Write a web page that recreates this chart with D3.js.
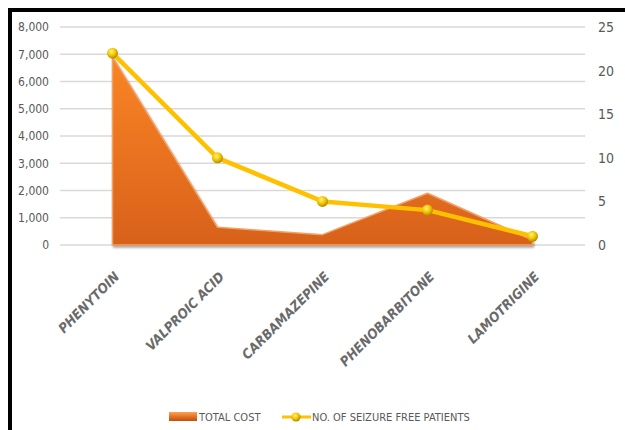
<!DOCTYPE html>
<html>
<head>
<meta charset="utf-8">
<script src="https://cdn.jsdelivr.net/npm/d3@7"></script>
<style>
body { margin: 0; background: #fff; }
text { font-family: "Liberation Sans Narrow", "DejaVu Sans Condensed", sans-serif; font-stretch: condensed; fill: #595959; }
</style>
</head>
<body>
<svg class="chart"></svg>
<script>
// data
var drugs = ["PHENYTOIN", "VALPROIC ACID", "CARBAMAZEPINE", "PHENOBARBITONE", "LAMOTRIGINE"];
var totalCost = [6900, 650, 380, 1900, 180];
var seizureFree = [22, 10, 5, 4, 1];
var costTicks = [0, 1000, 2000, 3000, 4000, 5000, 6000, 7000, 8000];
var patientTicks = [0, 5, 10, 15, 20, 25];

var W = 625, H = 430;
var svg = d3.select(".chart").attr("width", W).attr("height", H);

var defs = svg.append("defs");
var grad = defs.append("linearGradient").attr("id", "areaFill")
	.attr("x1", 0).attr("y1", 0).attr("x2", 0).attr("y2", 1);
grad.append("stop").attr("offset", "0%").attr("stop-color", "#FA8524");
grad.append("stop").attr("offset", "100%").attr("stop-color", "#D8611B");

var ball = defs.append("radialGradient").attr("id", "ball")
	.attr("cx", "40%").attr("cy", "35%").attr("r", "65%");
ball.append("stop").attr("offset", "0%").attr("stop-color", "#FFF27A");
ball.append("stop").attr("offset", "55%").attr("stop-color", "#F2C500");
ball.append("stop").attr("offset", "100%").attr("stop-color", "#B08A00");

var legGrad = defs.append("linearGradient").attr("id", "legFill")
	.attr("x1", 0).attr("y1", 0).attr("x2", 0).attr("y2", 1);
legGrad.append("stop").attr("offset", "0%").attr("stop-color", "#F9A35A");
legGrad.append("stop").attr("offset", "50%").attr("stop-color", "#E8731F");
legGrad.append("stop").attr("offset", "100%").attr("stop-color", "#B9501A");

// frame (top and left edges only visible)
svg.append("rect").attr("x", 10).attr("y", 10).attr("width", 640).attr("height", 460)
	.attr("fill", "none").attr("stroke", "#000").attr("stroke-width", 4);

var x = d3.scaleBand().domain(drugs).range([60, 585]);
var yL = d3.scaleLinear().domain([0, 8000]).range([245, 27]);
var yR = d3.scaleLinear().domain([0, 25]).range([245, 27]);

// gridlines
svg.append("g").selectAll("line").data(costTicks).join("line")
	.attr("x1", 60).attr("x2", 585)
	.attr("y1", d => yL(d)).attr("y2", d => yL(d))
	.attr("stroke", "#D9D9D9").attr("stroke-width", 1.3);

// left axis
var axL = svg.append("g").attr("transform", "translate(55,0)")
	.call(d3.axisLeft(yL).tickValues(costTicks).tickFormat(d3.format(",")).tickSize(0).tickPadding(6));
axL.select(".domain").remove();
axL.selectAll("text").style("font-size", "12px");

// right axis
var axR = svg.append("g").attr("transform", "translate(592,0)")
	.call(d3.axisRight(yR).tickValues(patientTicks).tickSize(0).tickPadding(6));
axR.select(".domain").remove();
axR.selectAll("text").style("font-size", "14px");

// category labels
svg.append("g").selectAll("text").data(drugs).join("text")
	.attr("transform", d => "translate(" + (x(d) + x.bandwidth() / 2 + 1) + ",271) rotate(-45)")
	.attr("text-anchor", "end")
	.attr("dy", "0.7em")
	.style("font-size", "13.5px").style("font-style", "italic").style("font-weight", "bold")
	.style("fill", "#6a6a6a")
	.text(d => d);

// area for total cost
var cx = d => x(d) + x.bandwidth() / 2;
var area = d3.area()
	.x((d, i) => cx(drugs[i]))
	.y0(yL(0))
	.y1(d => yL(d));
svg.append("path").datum(totalCost)
	.attr("d", area)
	.attr("fill", "url(#areaFill)")
	.attr("stroke", "#F4A060").attr("stroke-width", 1.5).attr("stroke-linejoin", "round")
	.style("filter", "drop-shadow(1px 2px 1px rgba(0,0,0,0.35))");

// line for seizure free patients
var line = d3.line()
	.x((d, i) => cx(drugs[i]))
	.y(d => yR(d));
svg.append("path").datum(seizureFree)
	.attr("d", line)
	.attr("fill", "none")
	.attr("stroke", "#FFC000").attr("stroke-width", 4.5).attr("stroke-linejoin", "round");

svg.append("g").selectAll("circle").data(seizureFree).join("circle")
	.attr("cx", (d, i) => cx(drugs[i]))
	.attr("cy", d => yR(d))
	.attr("r", 5.5)
	.attr("fill", "url(#ball)");

// legend
var leg = svg.append("g");
leg.append("rect").attr("x", 169).attr("y", 412).attr("width", 28).attr("height", 9)
	.attr("fill", "url(#legFill)");
leg.append("text").attr("x", 199).attr("y", 421).style("font-size", "11px").text("TOTAL COST");
leg.append("line").attr("x1", 282).attr("x2", 311).attr("y1", 417).attr("y2", 417)
	.attr("stroke", "#FFC000").attr("stroke-width", 3);
leg.append("circle").attr("cx", 296).attr("cy", 417).attr("r", 4.5).attr("fill", "url(#ball)");
leg.append("text").attr("x", 312).attr("y", 421).style("font-size", "11px").text("NO. OF SEIZURE FREE PATIENTS");
</script>
</body>
</html>
